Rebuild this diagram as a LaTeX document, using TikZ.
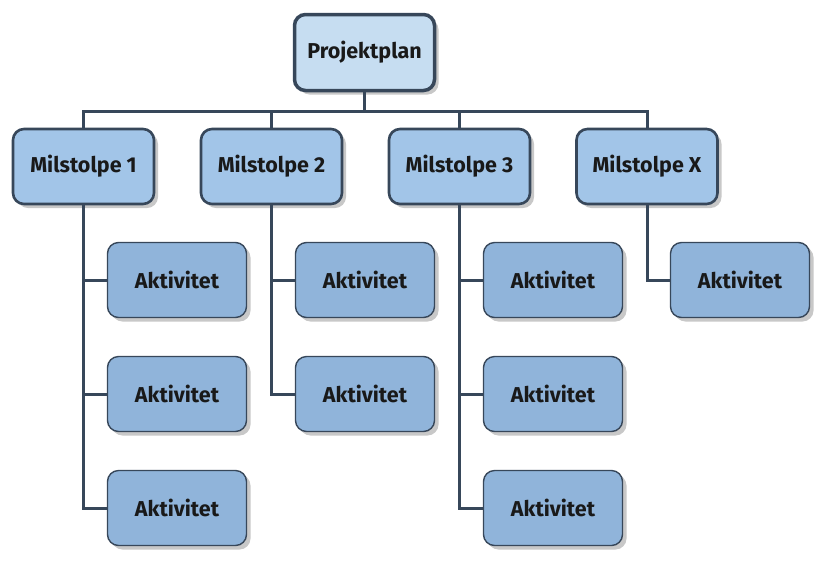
\documentclass[tikz,border=0pt]{standalone}
\usepackage{fontspec}
\setmainfont{Fira Sans}
\usetikzlibrary{shadows}
\definecolor{edge}{HTML}{37475A}
\definecolor{topfill}{HTML}{C6DDF1}
\definecolor{msfill}{HTML}{A2C5E8}
\definecolor{actfill}{HTML}{90B4DA}
\definecolor{shade}{HTML}{C8C8C8}
\begin{document}
\begin{tikzpicture}[x=1pt,y=-1pt,
  base/.style={draw=edge, rounded corners=11pt, align=center, inner sep=0pt,
    font=\fontsize{21.5}{25}\selectfont\bfseries, text=black!90,
    drop shadow={shadow xshift=4pt, shadow yshift=-4pt, fill=shade, opacity=1}},
  topbox/.style={base, fill=topfill, line width=3.5pt, minimum width=140pt, minimum height=76pt},
  msbox/.style={base, fill=msfill, line width=2.6pt, minimum width=141pt, minimum height=75pt},
  actbox/.style={base, fill=actfill, line width=1.4pt, minimum width=139pt, minimum height=75pt},
  conn/.style={draw=edge, line width=3pt}]
\useasboundingbox[fill=white] (0,0) rectangle (824,566);
\coordinate (bus) at (0,111);
\node[topbox] (P) at (364.5,52.5) {Projektplan};
\node[msbox] (m1) at (83.5,166.5) {Milstolpe 1};
\node[msbox] (m2) at (271.5,166.5) {Milstolpe 2};
\node[msbox] (m3) at (459.5,166.5) {Milstolpe 3};
\node[msbox] (mx) at (647,166.5) {Milstolpe X};
\node[actbox] (a11) at (177,280) {Aktivitet};
\node[actbox] (a12) at (177,394) {Aktivitet};
\node[actbox] (a13) at (177,508) {Aktivitet};
\node[actbox] (a21) at (365,280) {Aktivitet};
\node[actbox] (a22) at (365,394) {Aktivitet};
\node[actbox] (a31) at (553,280) {Aktivitet};
\node[actbox] (a32) at (553,394) {Aktivitet};
\node[actbox] (a33) at (553,508) {Aktivitet};
\node[actbox] (ax1) at (740,280) {Aktivitet};
% connectors
\draw[conn] (P.south) -- (P.south |- bus);
\draw[conn] (m1.north) -- (m1.north |- bus) -- (mx.north |- bus) -- (mx.north);
\draw[conn] (m2.north) -- (m2.north |- bus);
\draw[conn] (m3.north) -- (m3.north |- bus);
\draw[conn] (m1.south) |- (a13.west);
\draw[conn] (m1.south |- a11.west) -- (a11.west);
\draw[conn] (m1.south |- a12.west) -- (a12.west);
\draw[conn] (m2.south) |- (a22.west);
\draw[conn] (m2.south |- a21.west) -- (a21.west);
\draw[conn] (m3.south) |- (a33.west);
\draw[conn] (m3.south |- a31.west) -- (a31.west);
\draw[conn] (m3.south |- a32.west) -- (a32.west);
\draw[conn] (mx.south) |- (ax1.west);
\end{tikzpicture}
\end{document}
